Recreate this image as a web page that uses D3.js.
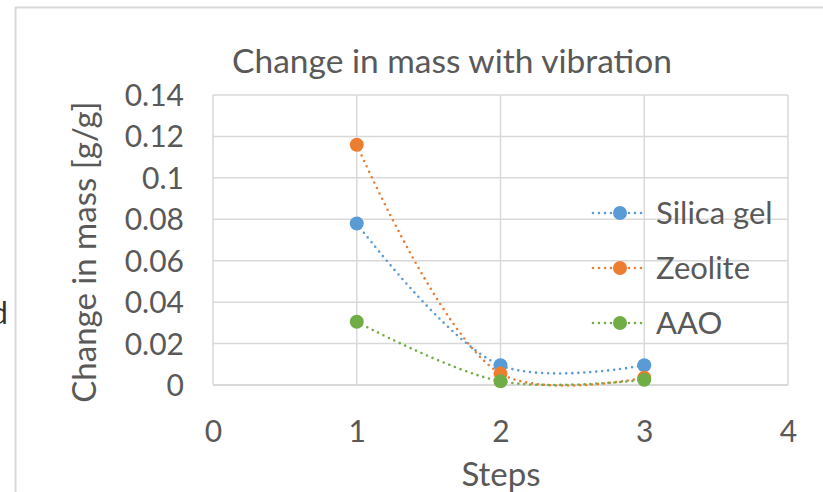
<!DOCTYPE html>
<html><head><meta charset="utf-8">
<script src="https://cdn.jsdelivr.net/npm/d3@7"></script>
<style>body{margin:0;background:#fff;} svg{display:block;}</style>
</head><body>
<svg id="c" width="823" height="492"></svg>
<script>
const steps = [1, 2, 3];
const silicaGel = [0.078, 0.0095, 0.0095];
const zeolite = [0.116, 0.0055, 0.0035];
const aao = [0.0305, 0.0018, 0.0025];
const seriesNames = ["Silica gel", "Zeolite", "AAO"];
const seriesColors = ["#5B9BD5", "#ED7D31", "#70AD47"];
const xTicks = [0, 1, 2, 3, 4];
const yTicks = [0, 0.02, 0.04, 0.06, 0.08, 0.1, 0.12, 0.14];
const yTickLabels = ["0", "0.02", "0.04", "0.06", "0.08", "0.1", "0.12", "0.14"];

const svg = d3.select("#c");
const font = "Lato, 'Open Sans', sans-serif";
const txt = "#595959";

svg.append("line").attr("x1",15).attr("x2",823).attr("y1",7.5).attr("y2",7.5).attr("stroke","#D9D9D9").attr("stroke-width",2);
svg.append("line").attr("x1",15.5).attr("x2",15.5).attr("y1",7).attr("y2",492).attr("stroke","#D9D9D9").attr("stroke-width",2);
svg.append("text").attr("x",-9).attr("y",324).attr("font-family",font).attr("font-size",30).attr("fill","#333").text("d");

const x = d3.scaleLinear().domain([0,4]).range([213,788]);
const y = d3.scaleLinear().domain([0,0.14]).range([385,95]);

const g = svg.append("g");
g.selectAll(".hg").data(yTicks.slice(1)).join("line")
  .attr("x1",x(0)).attr("x2",x(4)).attr("y1",d=>y(d)).attr("y2",d=>y(d))
  .attr("stroke","#D9D9D9").attr("stroke-width",1.5);
g.selectAll(".vg").data(xTicks).join("line")
  .attr("x1",d=>x(d)).attr("x2",d=>x(d)).attr("y1",y(0)).attr("y2",y(0.14))
  .attr("stroke","#D9D9D9").attr("stroke-width",1.5);
g.append("line").attr("x1",x(0)).attr("x2",x(4)).attr("y1",y(0)).attr("y2",y(0)).attr("stroke","#D9D9D9").attr("stroke-width",2);

const yAxis = d3.axisLeft(y).tickValues(yTicks).tickFormat((d,i)=>yTickLabels[i]).tickSize(0).tickPadding(29);
const ya = svg.append("g").attr("transform",`translate(${x(0)},0)`).call(yAxis);
const xAxis = d3.axisBottom(x).tickValues(xTicks).tickFormat(d3.format("d")).tickSize(0).tickPadding(36);
const xa = svg.append("g").attr("transform",`translate(0,${y(0)})`).call(xAxis);
[ya,xa].forEach(a=>{a.select(".domain").remove();
  a.selectAll("text").attr("font-family",font).attr("font-size",30).attr("fill",txt);});
ya.selectAll("text").attr("dy","0.35em");
xa.selectAll("text").attr("dy","0.71em");

svg.append("text").attr("x",452).attr("y",73).attr("text-anchor","middle").attr("font-family",font).attr("font-size",33.5).attr("fill",txt).text("Change in mass with vibration");
svg.append("text").attr("x",501).attr("y",486).attr("text-anchor","middle").attr("font-family",font).attr("font-size",33).attr("fill",txt).text("Steps");
svg.append("text").attr("transform","translate(96,252) rotate(-90)").attr("text-anchor","middle").attr("font-family",font).attr("font-size",33).attr("fill",txt).text("Change in mass [g/g]");

const data = [silicaGel, zeolite, aao];
const line = d3.line().x((d,i)=>x(steps[i])).y(d=>y(d)).curve(d3.curveCatmullRom.alpha(0.5));
data.forEach((vals,k)=>{
  svg.append("path").attr("d",line(vals)).attr("fill","none").attr("stroke",seriesColors[k])
    .attr("stroke-width",2.6).attr("stroke-dasharray","0,6").attr("stroke-linecap","round");
});
data.forEach((vals,k)=>{
  svg.selectAll(null).data(vals).join("circle").attr("cx",(d,i)=>x(steps[i])).attr("cy",d=>y(d)).attr("r",7).attr("fill",seriesColors[k]);
});

const lg = svg.append("g");
seriesNames.forEach((n,k)=>{
  const yy = 213 + k*55;
  lg.append("line").attr("x1",593).attr("x2",646).attr("y1",yy).attr("y2",yy).attr("stroke",seriesColors[k])
    .attr("stroke-width",2.6).attr("stroke-dasharray","0,6").attr("stroke-linecap","round");
  lg.append("circle").attr("cx",620).attr("cy",yy).attr("r",7).attr("fill",seriesColors[k]);
  lg.append("text").attr("x",656).attr("y",yy+11).attr("font-family",font).attr("font-size",31).attr("fill",txt).text(n);
});
</script>
</body></html>
